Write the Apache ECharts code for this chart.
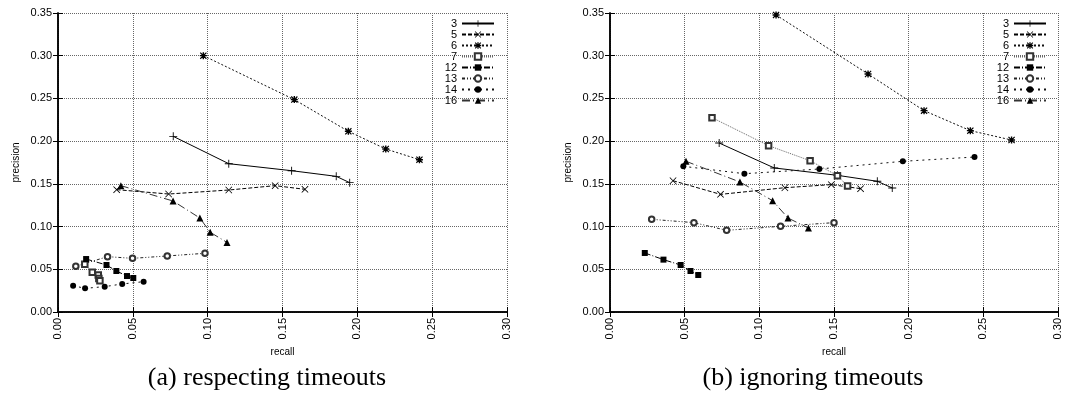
<!DOCTYPE html>
<html><head><meta charset="utf-8">
<script src="https://cdn.jsdelivr.net/npm/echarts@6/dist/echarts.min.js"></script>
<style>html,body{margin:0;padding:0;background:#fff}#c{width:1066px;height:394px}</style>
</head><body><div id="c"></div>
<script>
// ---------- DATA ----------
const seriesNames = ['3', '5', '6', '7', '12', '13', '14', '16'];
const tickValuesX = [0, 0.05, 0.10, 0.15, 0.20, 0.25, 0.30];
const tickValuesY = [0, 0.05, 0.10, 0.15, 0.20, 0.25, 0.30, 0.35];
const subtitleA = '(a) respecting timeouts';
const subtitleB = '(b) ignoring timeouts';

// (a) respecting timeouts : [recall, precision]
const resp3  = [[0.077, 0.2056], [0.1141, 0.1736], [0.1561, 0.1654], [0.1859, 0.1588], [0.1949, 0.1514]];
const resp5  = [[0.0392, 0.1432], [0.0739, 0.1381], [0.1141, 0.1428], [0.1451, 0.1479], [0.165, 0.1436]];
const resp6  = [[0.0971, 0.3001], [0.1579, 0.2486], [0.194, 0.2115], [0.219, 0.1908], [0.2415, 0.1783]];
const resp7  = [[0.0179, 0.0560], [0.0229, 0.0464], [0.0269, 0.0433], [0.0273, 0.0392], [0.0280, 0.0366]];
const resp12 = [[0.0188, 0.062], [0.0324, 0.055], [0.039, 0.048], [0.0461, 0.0421], [0.0503, 0.0398]];
const resp13 = [[0.0119, 0.0535], [0.0331, 0.0648], [0.0498, 0.0628], [0.073, 0.0656], [0.0982, 0.0687]];
const resp14 = [[0.0101, 0.0308], [0.0181, 0.0277], [0.0312, 0.0297], [0.0429, 0.0328], [0.0572, 0.0355]];
const resp16 = [[0.042, 0.1479], [0.0769, 0.1299], [0.0948, 0.11], [0.1017, 0.0933], [0.1129, 0.0815]];

// (b) ignoring timeouts : [recall, precision]
const ign3  = [[0.0731, 0.1978], [0.11, 0.1686], [0.1523, 0.160], [0.179, 0.153], [0.189, 0.1452]];
const ign5  = [[0.0422, 0.1537], [0.074, 0.1377], [0.1171, 0.1455], [0.1482, 0.1491], [0.1678, 0.1444]];
const ign6  = [[0.1112, 0.3477], [0.1728, 0.2786], [0.2103, 0.2357], [0.2413, 0.2123], [0.2689, 0.2013]];
const ign7  = [[0.0683, 0.2275], [0.1062, 0.1947], [0.134, 0.1771], [0.1523, 0.1596], [0.1591, 0.1475]];
const ign12 = [[0.0233, 0.0691], [0.0358, 0.0613], [0.0473, 0.055], [0.0539, 0.048], [0.0591, 0.0433]];
const ign13 = [[0.0279, 0.1085], [0.0562, 0.1046], [0.0781, 0.0956], [0.1142, 0.1003], [0.15, 0.1046]];
const ign14 = [[0.0491, 0.1705], [0.09, 0.1619], [0.1402, 0.1674], [0.1961, 0.1764], [0.2441, 0.1814]];
const ign16 = [[0.0509, 0.1764], [0.087, 0.1522], [0.1089, 0.1303], [0.1192, 0.11], [0.1329, 0.0983]];

const respData = [resp3, resp5, resp6, resp7, resp12, resp13, resp14, resp16];
const ignData  = [ign3, ign5, ign6, ign7, ign12, ign13, ign14, ign16];

// ---------- STYLES ----------
const PLUS  = 'path://M0,4.45H10V5.55H0Z M4.45,0H5.55V10H4.45Z';
const CROSS = 'path://M0.8,0L5,4.2L9.2,0L10,0.8L5.8,5L10,9.2L9.2,10L5,5.8L0.8,10L0,9.2L4.2,5L0,0.8Z';
const STAR  = 'path://M0,4H10V6H0Z M4,0H6V10H4Z M1.2,0L5,3.8L8.8,0L10,1.2L6.2,5L10,8.8L8.8,10L5,6.2L1.2,10L0,8.8L3.8,5L0,1.2Z';
const styles = [
  { symbol: PLUS,  size: 8, dash: 'solid',          line: '#000' },
  { symbol: CROSS, size: 7, dash: [4, 2],           line: '#000' },
  { symbol: STAR,  size: 7, dash: [2, 2],           line: '#111' },
  { symbol: 'emptyRect', size: 5.5, dash: [1, 1],   line: '#666' },
  { symbol: 'rect', size: 6, dash: [6, 2, 1, 2],    line: '#000' },
  { symbol: 'emptyCircle', size: 5.5, dash: [3, 2, 1, 2, 1, 2], line: '#222' },
  { symbol: 'circle', size: 6, dash: [2, 4],        line: '#111' },
  { symbol: 'triangle', size: 7, dash: [8, 3, 1, 3], line: '#333' }
];

function makeSeries(dataArr, xi, yi) {
  return dataArr.map((d, i) => {
    const empty = styles[i].symbol.startsWith('empty');
    return {
      name: seriesNames[i],
      type: 'line',
      xAxisIndex: xi, yAxisIndex: yi,
      data: d,
      symbol: styles[i].symbol,
      symbolSize: styles[i].size,
      showAllSymbol: true,
      animation: false,
      itemStyle: empty ? { color: '#333', borderColor: '#333', borderWidth: 0.9 } : { color: '#000', borderWidth: 0 },
      lineStyle: { color: styles[i].line, width: 1, type: styles[i].dash },
      emphasis: { disabled: true },
      z: 3
    };
  });
}

const labelFont = 'Liberation Sans';
function xAx(grid, bottom) {
  return {
    type: 'value', gridIndex: grid, position: bottom ? 'bottom' : 'top',
    min: tickValuesX[0], max: tickValuesX[tickValuesX.length - 1], interval: 0.05,
    axisLine: { show: true, lineStyle: { color: '#000', width: 1.5 } },
    axisTick: { show: true, inside: true, length: 5, lineStyle: { color: '#000' } },
    splitLine: { show: bottom, lineStyle: { color: '#666', type: [1, 1], width: 1 } },
    axisLabel: bottom ? { show: true, rotate: 90, margin: 6, fontSize: 11, fontFamily: labelFont, color: '#000',
      formatter: v => v.toFixed(2) } : { show: false },
    name: bottom ? 'recall' : '', nameLocation: 'middle', nameGap: 26,
    nameTextStyle: { fontSize: 10, fontFamily: labelFont, color: '#000' }
  };
}
function yAx(grid, left) {
  return {
    type: 'value', gridIndex: grid, position: left ? 'left' : 'right',
    min: tickValuesY[0], max: tickValuesY[tickValuesY.length - 1], interval: 0.05,
    axisLine: { show: true, lineStyle: { color: '#000', width: 1.5 } },
    axisTick: { show: true, inside: true, length: 5, lineStyle: { color: '#000' } },
    splitLine: { show: left, lineStyle: { color: '#666', type: [1, 1], width: 1 } },
    axisLabel: left ? { show: true, margin: 6, fontSize: 11, fontFamily: labelFont, color: '#000',
      formatter: v => v.toFixed(2) } : { show: false },
    name: left ? 'precision' : '', nameLocation: 'middle', nameGap: 37, nameRotate: 90,
    nameTextStyle: { fontSize: 10, fontFamily: labelFont, color: '#000' }
  };
}
function legendFor(right) {
  return {
    data: seriesNames, orient: 'vertical', right: right, top: 18, padding: 0,
    align: 'right', itemWidth: 32, itemHeight: 8, itemGap: 0,
    selectedMode: false,
    textStyle: { fontSize: 11, fontFamily: labelFont, color: '#000', width: 16, align: 'right', lineHeight: 10.7 }
  };
}

const chart = echarts.init(document.getElementById('c'), null, { renderer: 'canvas' });
chart.setOption({
  backgroundColor: '#fff',
  animation: false,
  title: [
    { text: subtitleA, left: 262, top: 360, textAlign: 'center',
      textStyle: { fontFamily: 'Liberation Serif', fontSize: 26, fontWeight: 'normal', color: '#000' } },
    { text: subtitleB, left: 808, top: 360, textAlign: 'center',
      textStyle: { fontFamily: 'Liberation Serif', fontSize: 26, fontWeight: 'normal', color: '#000' } }
  ],
  grid: [
    { left: 58, top: 13, width: 449, height: 299 },
    { left: 610, top: 13, width: 448, height: 299 }
  ],
  xAxis: [xAx(0, true), xAx(0, false), xAx(1, true), xAx(1, false)],
  yAxis: [yAx(0, true), yAx(0, false), yAx(1, true), yAx(1, false)],
  legend: [legendFor(571), legendFor(19)],
  series: makeSeries(respData, 0, 0).concat(makeSeries(ignData, 2, 2))
});
</script></body></html>
